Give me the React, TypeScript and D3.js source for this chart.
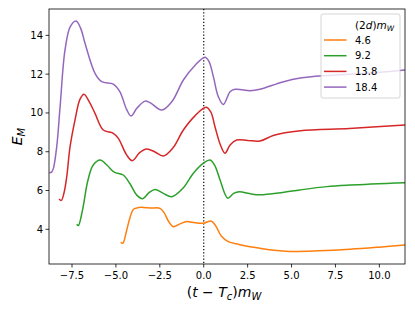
import React from "react";
import * as d3 from "d3";

// (t - Tc) mW vs E_M for four values of (2d) mW
const t46 = [-4.73, -4.61, -4.4, -4.2, -4.0, -3.7, -3.46, -3.0, -2.49, -2.25, -2.0, -1.73, -1.35, -0.97, -0.6, -0.02, 0.42, 0.7, 1.0, 1.4, 2.0, 2.64, 3.2, 4.0, 4.9, 6.5, 8.33, 10, 11.46];
const e46 = [3.33, 3.28, 3.9, 4.6, 5.03, 5.12, 5.13, 5.1, 5.08, 4.85, 4.4, 4.13, 4.28, 4.4, 4.35, 4.31, 4.43, 4.15, 3.65, 3.36, 3.22, 3.1, 3.02, 2.92, 2.86, 2.89, 2.97, 3.08, 3.19];

const t92 = [-7.23, -7.14, -6.9, -6.6, -6.3, -5.9, -5.5, -5.1, -4.58, -4.2, -3.8, -3.47, -3.1, -2.77, -2.3, -1.82, -1.2, -0.59, 0, 0.36, 0.65, 0.93, 1.37, 1.7, 2.03, 2.6, 3.2, 4.5, 5.48, 7, 8.33, 11.46];
const e92 = [4.26, 4.19, 5.0, 6.5, 7.3, 7.57, 7.3, 6.95, 6.8, 6.35, 5.75, 5.58, 5.9, 6.05, 5.85, 5.68, 6.1, 6.89, 7.42, 7.57, 7.25, 6.54, 5.6, 5.85, 5.94, 5.84, 5.78, 5.9, 6.03, 6.2, 6.28, 6.4];

const t138 = [-8.24, -8.11, -7.95, -7.8, -7.61, -7.33, -7.05, -6.82, -6.5, -6.19, -5.72, -5.15, -4.86, -4.4, -4.07, -3.65, -3.25, -2.8, -2.3, -1.75, -1.16, -0.5, 0.13, 0.4, 0.64, 0.93, 1.21, 1.5, 1.88, 2.5, 3.2, 4, 5.5, 8.3, 11.46];
const e138 = [5.56, 5.49, 5.9, 6.71, 8.26, 9.63, 10.7, 10.97, 10.55, 9.98, 9.12, 8.95, 8.69, 7.85, 7.54, 7.95, 8.14, 8.0, 7.78, 8.2, 9.12, 9.85, 10.29, 10.05, 9.29, 8.4, 7.92, 8.35, 8.6, 8.58, 8.55, 8.85, 9.08, 9.2, 9.38];

const t184 = [-8.79, -8.66, -8.56, -8.37, -8.18, -7.9, -7.6, -7.27, -7.0, -6.76, -6.19, -5.81, -5.15, -4.77, -4.4, -4.14, -3.8, -3.34, -3.06, -2.39, -1.8, -1.16, -0.5, 0.07, 0.3, 0.55, 0.83, 1.12, 1.5, 1.78, 2.2, 2.64, 3.2, 4.5, 5.5, 7, 8.3, 10, 11.46];
const e184 = [6.92, 6.95, 7.14, 8.26, 10.3, 13.24, 14.45, 14.74, 14.35, 13.59, 12.04, 11.61, 11.49, 11.09, 10.2, 9.84, 10.25, 10.61, 10.53, 10.15, 10.6, 11.7, 12.45, 12.87, 12.65, 11.87, 10.84, 10.44, 11.09, 11.22, 11.19, 11.15, 11.22, 11.6, 11.8, 11.93, 12.0, 12.1, 12.21];

const labels = ["4.6", "9.2", "13.8", "18.4"];
const colors = ["#ff7f0e", "#2ca02c", "#d62728", "#9467bd"];
const xTicks = [-7.5, -5.0, -2.5, 0.0, 2.5, 5.0, 7.5, 10.0];
const yTicks = [4, 6, 8, 10, 12, 14];

const series = [
  { t: t46, e: e46 },
  { t: t92, e: e92 },
  { t: t138, e: e138 },
  { t: t184, e: e184 },
];

export default function App() {
  const W = 415, H = 311;
  const left = 49, right = 405, top = 9, bottom = 264;
  const font = "DejaVu Sans, sans-serif";

  const x = d3.scaleLinear().domain([-8.81, 11.46]).range([left, right]);
  const y = d3.scaleLinear().domain([2.21, 15.36]).range([bottom, top]);

  const line = d3.line<[number, number]>()
    .x(d => x(d[0]))
    .y(d => y(d[1]))
    .curve(d3.curveCatmullRom.alpha(0.5));

  const lx = 321, ly = 14, lw = 79, lh = 84;

  return (
    <svg width={W} height={H} style={{ position: "absolute", left: 0, top: 0 }} fontFamily={font}>
      <rect width={W} height={H} fill="white" />
      <defs>
        <clipPath id="plot">
          <rect x={left} y={top} width={right - left} height={bottom - top} />
        </clipPath>
      </defs>

      <g clipPath="url(#plot)">
        <line x1={x(0)} x2={x(0)} y1={top} y2={bottom} stroke="black" strokeWidth={1.2} strokeDasharray="1.2,2" />
        {series.map((s, i) => (
          <path key={i}
            d={line(s.t.map((t, j) => [t, s.e[j]] as [number, number])) || ""}
            fill="none" stroke={colors[i]} strokeWidth={1.5} strokeLinejoin="round" />
        ))}
      </g>

      <rect x={left} y={top} width={right - left} height={bottom - top} fill="none" stroke="black" strokeWidth={0.8} />

      {xTicks.map(v => (
        <g key={v} transform={`translate(${x(v)},${bottom})`}>
          <line y2={3.5} stroke="black" strokeWidth={0.8} />
          <text y={15} textAnchor="middle" fontSize={10}>{v.toFixed(1).replace("-", "\u2212")}</text>
        </g>
      ))}
      {yTicks.map(v => (
        <g key={v} transform={`translate(${left},${y(v)})`}>
          <line x2={-3.5} stroke="black" strokeWidth={0.8} />
          <text x={-6} dy="0.35em" textAnchor="end" fontSize={10}>{v}</text>
        </g>
      ))}

      <text x={224} y={297} textAnchor="middle" fontSize={14}>
        <tspan>(</tspan><tspan fontStyle="italic">t</tspan><tspan> − </tspan>
        <tspan fontStyle="italic">T</tspan>
        <tspan fontStyle="italic" fontSize={10} dy={3}>c</tspan>
        <tspan dy={-3}>)</tspan><tspan fontStyle="italic">m</tspan>
        <tspan fontStyle="italic" fontSize={10} dy={3}>W</tspan>
      </text>

      <text transform={`translate(22,${(top + bottom) / 2}) rotate(-90)`} textAnchor="middle" fontSize={14}>
        <tspan fontStyle="italic">E</tspan>
        <tspan fontStyle="italic" fontSize={10} dy={3}>M</tspan>
      </text>

      <g>
        <rect x={lx} y={ly} width={lw} height={lh} rx={2} fill="white" fillOpacity={0.8} stroke="#cccccc" strokeWidth={0.8} />
        <text x={355} y={29} fontSize={10.5}>
          <tspan>(2</tspan><tspan fontStyle="italic">d</tspan><tspan>)</tspan>
          <tspan fontStyle="italic">m</tspan>
          <tspan fontStyle="italic" fontSize={7.5} dy={2}>W</tspan>
        </text>
        {labels.map((lab, i) => (
          <g key={lab} transform={`translate(0,${40 + i * 15.7})`}>
            <line x1={324} x2={346.5} stroke={colors[i]} strokeWidth={1.5} />
            <text x={355} dy="0.35em" fontSize={10}>{lab}</text>
          </g>
        ))}
      </g>
    </svg>
  );
}
